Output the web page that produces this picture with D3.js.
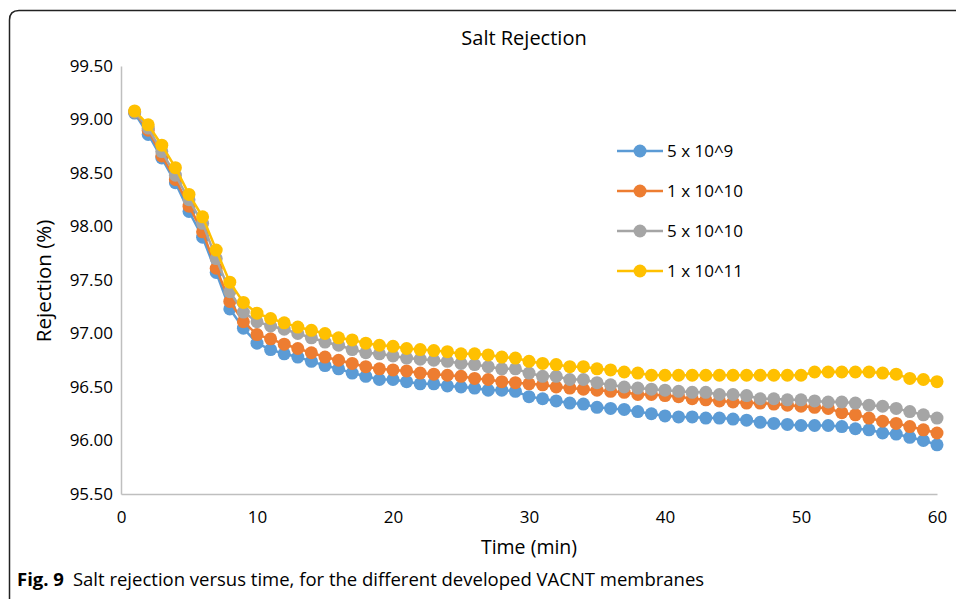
<!DOCTYPE html>
<html>
<head>
<meta charset="utf-8">
<script src="https://cdn.jsdelivr.net/npm/d3@7"></script>
<style>
  body { margin: 0; background: #fff; }
  text { font-family: "Open Sans", "Noto Sans", sans-serif; fill: #000; }
</style>
</head>
<body>
<div id="chart"></div>
<script>
// time in minutes
const times = d3.range(1, 61);

const seriesNames = ["5 x 10^9", "1 x 10^10", "5 x 10^10", "1 x 10^11"];
const seriesColors = ["#5B9BD5", "#ED7D31", "#A5A5A5", "#FFC000"];

const blue = [99.06, 98.86, 98.64, 98.41, 98.14, 97.90, 97.57, 97.23, 97.05, 96.91,
  96.85, 96.81, 96.78, 96.74, 96.70, 96.67, 96.63, 96.60, 96.57, 96.57,
  96.55, 96.53, 96.53, 96.51, 96.50, 96.49, 96.47, 96.47, 96.46, 96.41,
  96.39, 96.37, 96.35, 96.34, 96.31, 96.30, 96.29, 96.27, 96.25, 96.23,
  96.22, 96.22, 96.21, 96.21, 96.20, 96.19, 96.17, 96.16, 96.15, 96.14,
  96.14, 96.14, 96.13, 96.11, 96.10, 96.07, 96.06, 96.03, 96.00, 95.96];

const orange = [99.07, 98.90, 98.66, 98.44, 98.19, 97.95, 97.61, 97.30, 97.11, 96.99,
  96.95, 96.90, 96.86, 96.82, 96.78, 96.75, 96.72, 96.69, 96.67, 96.66,
  96.65, 96.63, 96.62, 96.61, 96.60, 96.58, 96.57, 96.55, 96.54, 96.53,
  96.52, 96.50, 96.49, 96.48, 96.47, 96.46, 96.45, 96.43, 96.43, 96.42,
  96.41, 96.39, 96.38, 96.37, 96.36, 96.35, 96.35, 96.34, 96.33, 96.32,
  96.31, 96.30, 96.26, 96.24, 96.21, 96.18, 96.16, 96.13, 96.10, 96.07];

const gray = [99.07, 98.92, 98.70, 98.48, 98.25, 98.03, 97.70, 97.39, 97.20, 97.11,
  97.07, 97.04, 97.00, 96.96, 96.92, 96.89, 96.85, 96.82, 96.81, 96.79,
  96.77, 96.76, 96.75, 96.74, 96.72, 96.71, 96.69, 96.67, 96.67, 96.63,
  96.60, 96.60, 96.57, 96.57, 96.54, 96.52, 96.50, 96.49, 96.48, 96.47,
  96.46, 96.45, 96.45, 96.43, 96.43, 96.42, 96.39, 96.39, 96.38, 96.38,
  96.37, 96.36, 96.36, 96.35, 96.33, 96.32, 96.30, 96.27, 96.24, 96.21];

const yellow = [99.08, 98.95, 98.76, 98.55, 98.30, 98.09, 97.78, 97.48, 97.29, 97.19,
  97.14, 97.10, 97.06, 97.03, 97.00, 96.96, 96.94, 96.91, 96.89, 96.88,
  96.86, 96.85, 96.84, 96.83, 96.81, 96.81, 96.80, 96.78, 96.77, 96.74,
  96.72, 96.71, 96.69, 96.69, 96.67, 96.66, 96.64, 96.63, 96.61, 96.61,
  96.61, 96.61, 96.61, 96.61, 96.61, 96.61, 96.61, 96.61, 96.61, 96.61,
  96.64, 96.64, 96.64, 96.64, 96.64, 96.63, 96.62, 96.58, 96.57, 96.55];

const seriesValues = [blue, orange, gray, yellow];

const yTicks = [95.5, 96, 96.5, 97, 97.5, 98, 98.5, 99, 99.5];
const xTicks = [0, 10, 20, 30, 40, 50, 60];

const W = 956, H = 599;
const margin = { top: 66, right: 19, bottom: 105, left: 121 },
      width = W - margin.left - margin.right,
      height = H - margin.top - margin.bottom;

const root = d3.select("#chart")
  .append("svg")
    .attr("width", W)
    .attr("height", H);

// frame: top and left edges with rounded corner
root.append("path")
  .attr("d", "M9.5,600 L9.5,20 Q9.5,10.5 19,10.5 L958,10.5")
  .attr("fill", "none")
  .attr("stroke", "#222")
  .attr("stroke-width", 1.5);

const svg = root.append("g")
  .attr("transform", `translate(${margin.left},${margin.top})`);

const x = d3.scaleLinear().domain([0, 60]).range([0, width]);
const y = d3.scaleLinear().domain([95.5, 99.5]).range([height, 0]);

// axes
const xAxis = svg.append("g")
  .attr("transform", `translate(0,${height})`)
  .call(d3.axisBottom(x).tickValues(xTicks).tickSize(0).tickPadding(17));
xAxis.select(".domain").attr("stroke", "#bfbfbf").attr("stroke-width", 1.5);
xAxis.selectAll("text").style("font-size", "17px").attr("font-family", null);

const yAxis = svg.append("g")
  .call(d3.axisLeft(y).tickValues(yTicks).tickSize(0).tickPadding(8)
    .tickFormat(d3.format(".2f")));
yAxis.select(".domain").attr("stroke", "#bfbfbf").attr("stroke-width", 1.5);
yAxis.selectAll("text").style("font-size", "17px").attr("font-family", null);

// lines and markers
const line = d3.line()
  .x((d, i) => x(times[i]))
  .y(d => y(d));

seriesValues.forEach((vals, k) => {
  svg.append("path")
    .datum(vals)
    .attr("fill", "none")
    .attr("stroke", seriesColors[k])
    .attr("stroke-width", 2.5)
    .attr("d", line);

  svg.append("g")
    .selectAll("circle")
    .data(vals)
    .enter()
    .append("circle")
      .attr("cx", (d, i) => x(times[i]))
      .attr("cy", d => y(d))
      .attr("r", 6.5)
      .style("fill", seriesColors[k]);
});

// legend
const legendY = [151, 191, 231, 271];
const legend = root.append("g");
seriesNames.forEach((name, k) => {
  legend.append("line")
    .attr("x1", 617).attr("x2", 663)
    .attr("y1", legendY[k]).attr("y2", legendY[k])
    .attr("stroke", seriesColors[k])
    .attr("stroke-width", 2.5);
  legend.append("circle")
    .attr("cx", 640).attr("cy", legendY[k])
    .attr("r", 6.5)
    .style("fill", seriesColors[k]);
  legend.append("text")
    .attr("x", 667).attr("y", legendY[k] + 6)
    .style("font-size", "17px")
    .text(name);
});

// title and axis labels
root.append("text")
  .attr("x", 524).attr("y", 45)
  .attr("text-anchor", "middle")
  .style("font-size", "20px")
  .text("Salt Rejection");

root.append("text")
  .attr("transform", "translate(51,281) rotate(-90)")
  .attr("text-anchor", "middle")
  .style("font-size", "20.5px")
  .text("Rejection (%)");

root.append("text")
  .attr("x", 529).attr("y", 554)
  .attr("text-anchor", "middle")
  .style("font-size", "19.5px")
  .text("Time (min)");

// caption
const cap = root.append("text")
  .attr("x", 17).attr("y", 586)
  .style("font-size", "18.5px");
cap.append("tspan").style("font-weight", "bold").text("Fig. 9");
cap.append("tspan").attr("dx", 9).text("Salt rejection versus time, for the different developed VACNT membranes");
</script>
</body>
</html>
